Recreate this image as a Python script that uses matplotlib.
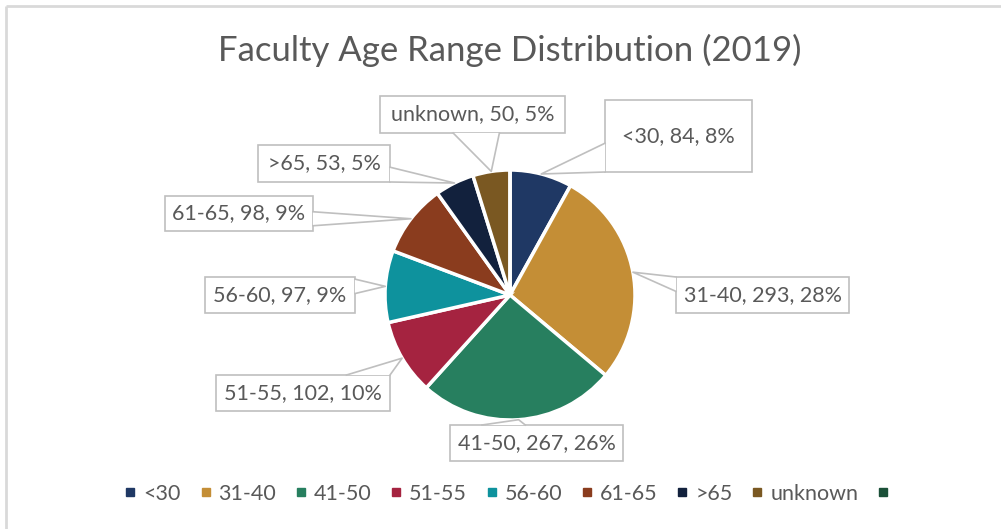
import matplotlib.pyplot as plt
from matplotlib.lines import Line2D
from matplotlib.patches import Rectangle, Polygon
import math

plt.rcParams['font.family'] = ['Lato', 'DejaVu Sans']

categories = ['<30', '31-40', '41-50', '51-55', '56-60', '61-65', '>65', 'unknown', '']
counts = [84, 293, 267, 102, 97, 98, 53, 50, 0]
colors = ['#1f3864', '#c48e36', '#277f5f', '#a52340', '#0e929d',
          '#8a3c1e', '#12213d', '#7a5822', '#1b5038']

W, H = 1001, 529
TXT = '#595959'
GRID = '#bfbfbf'

# label boxes in image pixels: x0, y0, x1, y1 (y down)
boxes = [
    (605, 100, 752, 172),
    (676, 277, 849, 313),
    (450, 425, 623, 461),
    (216, 375, 390, 411),
    (205, 277, 355, 313),
    (165, 196, 313, 231),
    (258, 145, 390, 182),
    (380, 96, 565, 133),
]

fig = plt.figure(figsize=(W / 100, H / 100), dpi=100)
ax = fig.add_axes([0, 0, 1, 1])

cx, cy, r = 510, 295, 125
total = sum(counts)
wedges, _ = ax.pie(counts, colors=colors, startangle=90, counterclock=False,
                   center=(cx, H - cy), radius=r,
                   wedgeprops=dict(edgecolor='white', linewidth=2.5))
ax.set_xlim(0, W)
ax.set_ylim(0, H)
ax.set_aspect('auto')
ax.axis('off')

for i, (x0, y0, x1, y1) in enumerate(boxes):
    w = wedges[i]
    th = math.radians((w.theta1 + w.theta2) / 2)
    tx = cx + r * math.cos(th)
    ty = cy - r * math.sin(th)

    # pointer base on the box edge facing the slice
    gx = max(x0 - tx, tx - x1, 0)
    gy = max(y0 - ty, ty - y1, 0)
    if gx >= gy:
        ex = x0 if tx < x0 else x1
        bw = 0.4 * (y1 - y0)
        m = min(max(ty, y0 + bw / 2), y1 - bw / 2)
        b1, b2 = (ex, m - bw / 2), (ex, m + bw / 2)
    else:
        ey = y0 if ty < y0 else y1
        bw = 0.25 * (x1 - x0)
        m = min(max(tx - 15, x0 + bw / 2), x1 - bw / 2)
        b1, b2 = (m - bw / 2, ey), (m + bw / 2, ey)

    ax.add_patch(Rectangle((x0, H - y1), x1 - x0, y1 - y0, facecolor='white',
                           edgecolor=GRID, linewidth=1.2, zorder=3))
    ax.add_patch(Polygon([(b1[0], H - b1[1]), (tx, H - ty), (b2[0], H - b2[1])],
                         closed=True, facecolor='white', edgecolor='none', zorder=4))
    ax.plot([b1[0], tx, b2[0]], [H - b1[1], H - ty, H - b2[1]],
            color=GRID, linewidth=1.2, zorder=5)

    pct = round(100 * counts[i] / total)
    ax.text((x0 + x1) / 2, H - (y0 + y1) / 2,
            f'{categories[i]}, {counts[i]}, {pct}%',
            ha='center', va='center', fontsize=15.5, color=TXT, zorder=6)

ax.text(510, H - 50, 'Faculty Age Range Distribution (2019)', ha='center', va='center',
        fontsize=25, color=TXT)

# chart frame (left and top edges visible)
ax.plot([6, 6], [0, H - 6], color='#d9d9d9', linewidth=2, solid_capstyle='butt')
ax.plot([6, W], [H - 6, H - 6], color='#d9d9d9', linewidth=2, solid_capstyle='butt')

handles = [Line2D([], [], marker='s', linestyle='none', markersize=6, color=c)
           for c in colors]
fig.legend(handles, categories, loc='center', bbox_to_anchor=(510 / W, 1 - 494 / H),
           ncol=9, frameon=False, fontsize=15.5, labelcolor=TXT,
           handlelength=0.6, handletextpad=0.3, columnspacing=0.85)

fig.savefig('out.png', dpi=100)
